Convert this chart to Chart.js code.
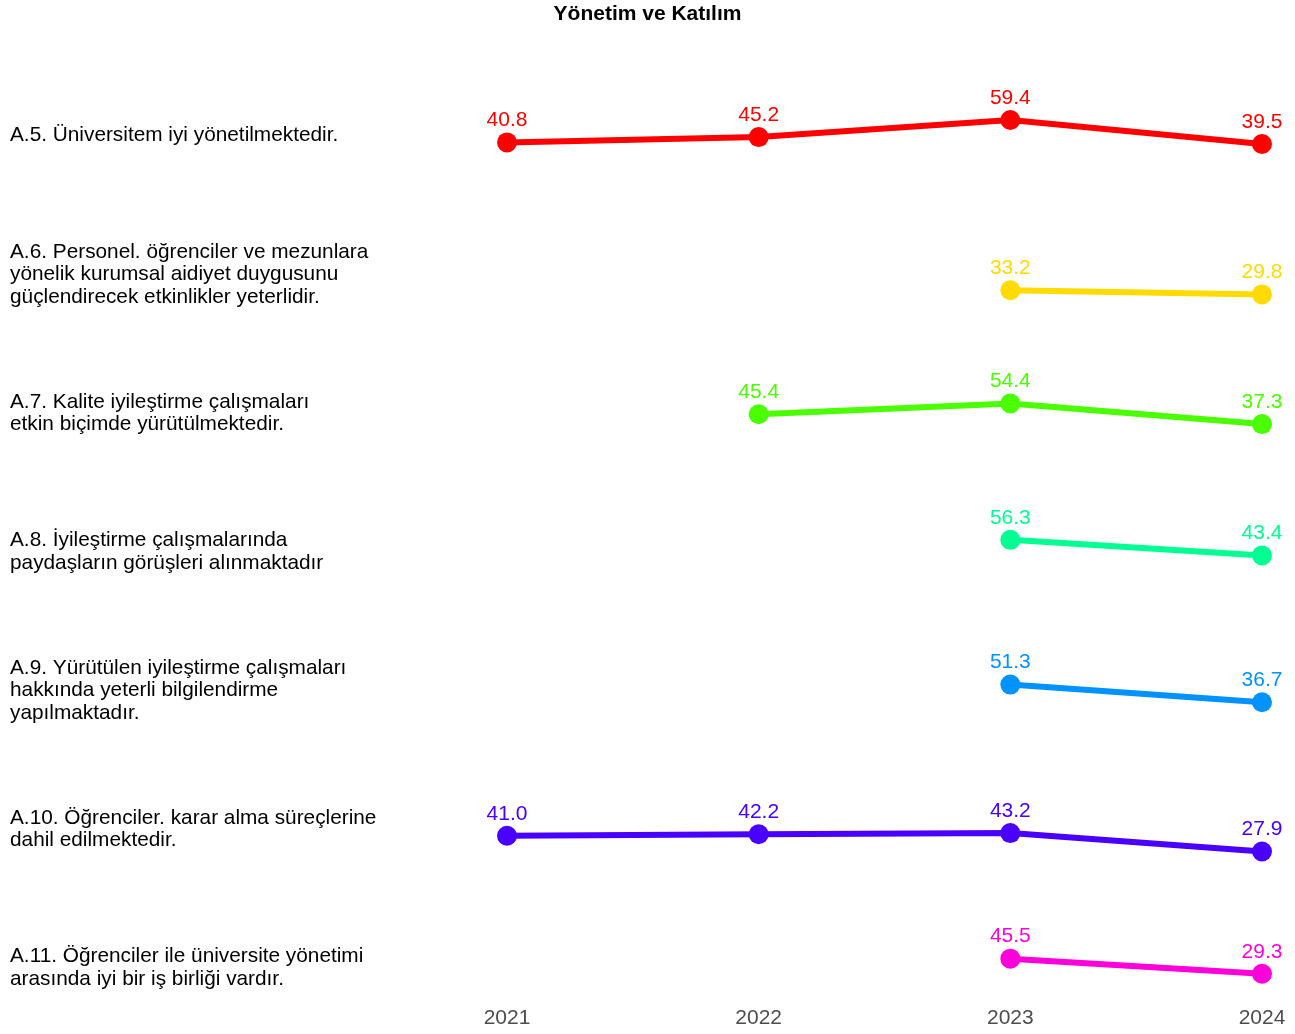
<!DOCTYPE html>
<html lang="tr">
<head>
<meta charset="utf-8">
<title>Yönetim ve Katılım</title>
<script src="https://cdn.jsdelivr.net/npm/chart.js@4.4.1/dist/chart.umd.min.js"></script>
<style>
    html, body { margin: 0; padding: 0; background: #fff; }
    #wrap { width: 1295px; height: 1034px; }
</style>
</head>
<body>
<div id="wrap"><canvas id="chart" width="1295" height="1034"></canvas></div>
<script>
const TITLE = 'Yönetim ve Katılım';
const YEARS = ['2021', '2022', '2023', '2024'];

const A5 = [40.8, 45.2, 59.4, 39.5];
const A6 = [null, null, 33.2, 29.8];
const A7 = [null, 45.4, 54.4, 37.3];
const A8 = [null, null, 56.3, 43.4];
const A9 = [null, null, 51.3, 36.7];
const A10 = [41.0, 42.2, 43.2, 27.9];
const A11 = [null, null, 45.5, 29.3];

const ITEM_LABELS = [
    ['A.5. Üniversitem iyi yönetilmektedir.'],
    ['A.6. Personel. öğrenciler ve mezunlara', 'yönelik kurumsal aidiyet duygusunu', 'güçlendirecek etkinlikler yeterlidir.'],
    ['A.7. Kalite iyileştirme çalışmaları', 'etkin biçimde yürütülmektedir.'],
    ['A.8. İyileştirme çalışmalarında', 'paydaşların görüşleri alınmaktadır'],
    ['A.9. Yürütülen iyileştirme çalışmaları', 'hakkında yeterli bilgilendirme', 'yapılmaktadır.'],
    ['A.10. Öğrenciler. karar alma süreçlerine', 'dahil edilmektedir.'],
    ['A.11. Öğrenciler ile üniversite yönetimi', 'arasında iyi bir iş birliği vardır.'],
];

const SERIES = [A5, A6, A7, A8, A9, A10, A11];
// rainbow(7)
const COLORS = ['#FF0000', '#FFDB00', '#49FF00', '#00FF92', '#0092FF', '#4900FF', '#FF00DB'];
// per-panel y limits [min, max]
const AXIS_LIMITS = [[19, 134], [19, 134], [19, 134], [19, 134], [19, 134], [19, 134], [0, 149]];

const FONT = "'Liberation Sans', Arial, sans-serif";
Chart.defaults.font.family = FONT;

// title centred on the whole canvas, not on the plot area
const pageTitle = {
    id: 'pageTitle',
    afterDraw(chart) {
        const ctx = chart.ctx;
        ctx.save();
        ctx.font = `bold 21px ${FONT}`;
        ctx.fillStyle = '#000';
        ctx.textAlign = 'center';
        ctx.textBaseline = 'middle';
        ctx.fillText(TITLE, chart.width / 2, 14);
        ctx.restore();
    },
};

const rowLabels = {
    id: 'rowLabels',
    afterDraw(chart) {
        const ctx = chart.ctx;
        ctx.save();
        ctx.font = `20.8px ${FONT}`;
        ctx.fillStyle = '#000';
        ctx.textAlign = 'left';
        ctx.textBaseline = 'middle';
        ITEM_LABELS.forEach((lines, i) => {
            const scale = chart.scales['y' + i];
            const center = scale.top + (scale.bottom - scale.top) * 0.762;
            const lh = 22.5;
            const start = center - (lines.length - 1) * lh / 2;
            lines.forEach((line, j) => ctx.fillText(line, 10, start + j * lh));
        });
        ctx.restore();
    },
};

const valueLabels = {
    id: 'valueLabels',
    afterDatasetsDraw(chart) {
        const ctx = chart.ctx;
        ctx.save();
        ctx.font = `21px ${FONT}`;
        ctx.textAlign = 'center';
        ctx.textBaseline = 'middle';
        chart.data.datasets.forEach((ds, i) => {
            const meta = chart.getDatasetMeta(i);
            ctx.fillStyle = ds.borderColor;
            meta.data.forEach((pt, j) => {
                const v = ds.data[j];
                if (v === null || v === undefined) return;
                ctx.fillText(v.toFixed(1), pt.x, pt.y - 22);
            });
        });
        ctx.restore();
    },
};

// stacked axes are laid out bottom-up, so add the last row first
const yScales = {};
for (let i = SERIES.length - 1; i >= 0; i--) {
    yScales['y' + i] = {
        type: 'linear',
        position: 'left',
        stack: 'rows',
        stackWeight: 1,
        display: false,
        min: AXIS_LIMITS[i][0],
        max: AXIS_LIMITS[i][1],
    };
}

new Chart(document.getElementById('chart').getContext('2d'), {
    type: 'line',
    data: {
        labels: YEARS,
        datasets: SERIES.map((values, i) => ({
            label: ITEM_LABELS[i][0],
            data: values,
            yAxisID: 'y' + i,
            borderColor: COLORS[i],
            backgroundColor: COLORS[i],
            borderWidth: 6,
            pointRadius: 10,
            pointBorderWidth: 0,
            pointHoverRadius: 10,
            tension: 0,
            clip: false,
        })),
    },
    options: {
        responsive: false,
        animation: false,
        layout: { padding: { left: 507, right: 33, top: 30, bottom: 4 } },
        plugins: {
            legend: { display: false },
            tooltip: { enabled: false },
            title: { display: false },
        },
        scales: {
            x: {
                type: 'category',
                offset: false,
                grid: { display: false, drawTicks: false },
                border: { display: false },
                ticks: { color: '#4D4D4D', font: { size: 21 }, padding: 5, maxRotation: 0 },
                afterFit(scale) { scale.height = 29; },
            },
            ...yScales,
        },
    },
    plugins: [pageTitle, rowLabels, valueLabels],
});
</script>
</body>
</html>
